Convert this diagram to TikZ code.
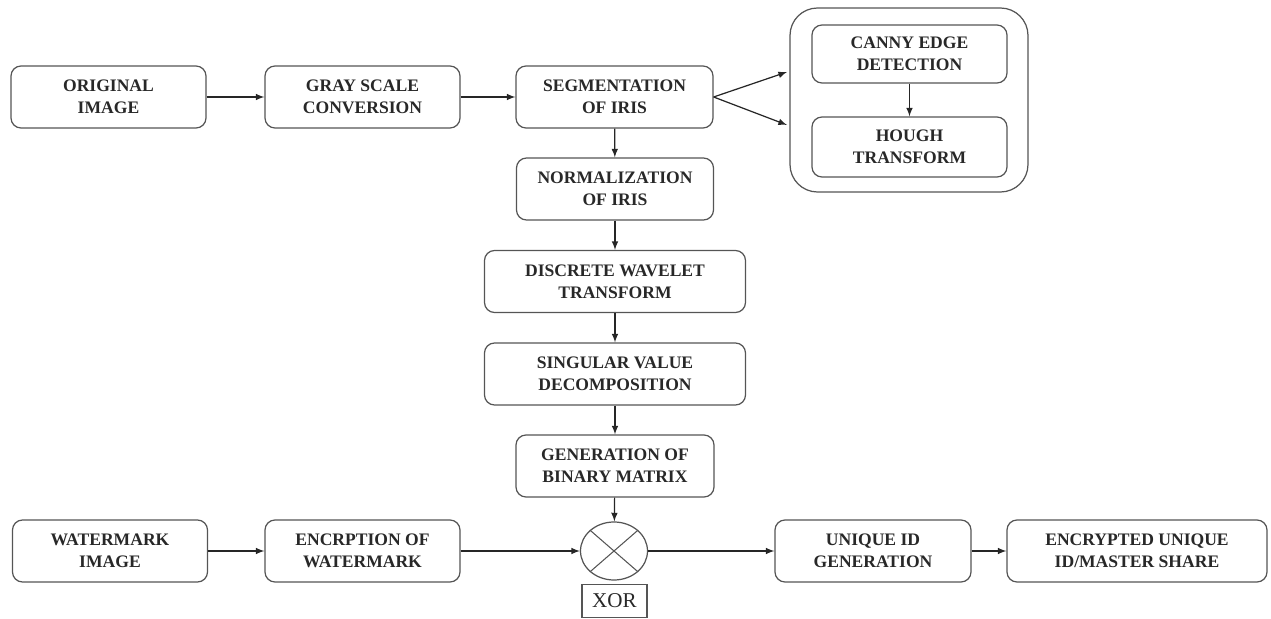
\documentclass[tikz,border=0pt]{standalone}
\usepackage{fontspec}
\setmainfont{Liberation Serif}
\usetikzlibrary{arrows}
\usetikzlibrary{shapes,shapes.geometric}
\definecolor{vienxam}{RGB}{85,85,85}
\definecolor{chuxam}{RGB}{40,40,40}

\begin{document}
\begin{tikzpicture}[>=latex,
		buoc/.style={draw=vienxam, line width=0.7pt, rounded corners=0.2cm, align=center,
			font=\fontsize{10}{12.5}\selectfont\bfseries, text=chuxam,
			minimum width=3.9cm, minimum height=1.24cm, inner sep=2pt},
		buocrong/.style={buoc, minimum width=5.22cm},
		muiten/.style={->, line width=0.7pt, black!85}]
	\useasboundingbox (0,0) rectangle (25.42,12.38);
	% hang tren
	\node[buoc] (goc) at (2.17,10.44) {ORIGINAL\\IMAGE};
	\node[buoc] (xam) at (7.25,10.44) {GRAY SCALE\\CONVERSION};
	\node[buoc, minimum width=3.94cm] (phando) at (12.29,10.44) {SEGMENTATION\\OF IRIS};
	% khung canny + hough
	\draw [vienxam, line width=0.7pt, rounded corners=0.55cm] (15.8,8.54) rectangle (20.56,12.22);
	\node[buoc, minimum height=1.16cm] (canny) at (18.19,11.30) {CANNY EDGE\\DETECTION};
	\node[buoc, minimum height=1.2cm] (hough) at (18.19,9.44) {HOUGH\\TRANSFORM};
	\coordinate (vaoA) at (15.74,10.94);
	\coordinate (vaoB) at (15.74,9.88);
	% cot giua
	\node[buoc, minimum width=3.94cm] (chuanhoa) at (12.3,8.6) {NORMALIZATION\\OF IRIS};
	\node[buocrong] (dwt) at (12.3,6.75) {DISCRETE WAVELET\\TRANSFORM};
	\node[buocrong] (svd) at (12.3,4.9) {SINGULAR VALUE\\DECOMPOSITION};
	\node[buoc, minimum width=3.96cm] (nhiphan) at (12.3,3.06) {GENERATION OF\\BINARY MATRIX};
	% hang duoi
	\node[buoc] (thuyvan) at (2.2,1.36) {WATERMARK\\IMAGE};
	\node[buoc] (mahoa) at (7.25,1.36) {ENCRPTION OF\\WATERMARK};
	\node[ellipse, draw=vienxam, line width=0.7pt, minimum width=1.34cm, minimum height=1.16cm, inner sep=0pt] (xor) at (12.28,1.36) {};
	\draw [vienxam, line width=0.6pt] (xor.north west) -- (xor.south east);
	\draw [vienxam, line width=0.6pt] (xor.north east) -- (xor.south west);
	\node[draw=vienxam, line width=0.7pt, text=chuxam, font=\fontsize{12}{14}\selectfont, minimum width=1.3cm, minimum height=0.66cm, inner sep=1pt] (nhanxor) at (12.29,0.36) {XOR};
	\node[buoc, minimum width=3.92cm] (maid) at (17.46,1.36) {UNIQUE ID\\GENERATION};
	\node[buocrong, minimum width=5.2cm] (chiase) at (22.74,1.36) {ENCRYPTED UNIQUE\\ID/MASTER SHARE};
	% cac mui ten
	\draw [muiten] (goc) -- (xam);
	\draw [muiten] (xam) -- (phando);
	\draw [muiten] (phando.east) -- (vaoA);
	\draw [muiten] (phando.east) -- (vaoB);
	\draw [muiten] (canny) -- (hough);
	\draw [muiten] (phando) -- (chuanhoa);
	\draw [muiten] (chuanhoa) -- (dwt);
	\draw [muiten] (dwt) -- (svd);
	\draw [muiten] (svd) -- (nhiphan);
	\draw [muiten] (nhiphan) -- (xor);
	\draw [muiten] (thuyvan) -- (mahoa);
	\draw [muiten] (mahoa) -- (xor);
	\draw [muiten] (xor) -- (maid);
	\draw [muiten] (maid) -- (chiase);
\end{tikzpicture}
\end{document}
